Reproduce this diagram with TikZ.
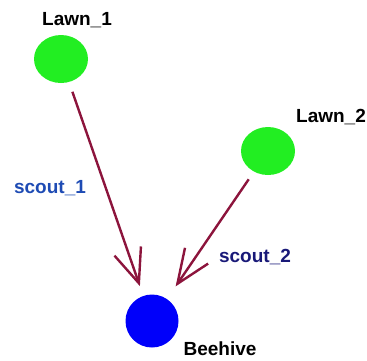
\documentclass[tikz,border=0pt]{standalone}
\usepackage{fontspec}
\setmainfont{Liberation Sans}
\usepackage{xcolor}
\usetikzlibrary{arrows.meta,positioning,shapes.geometric}

\definecolor{lawngreen}{RGB}{34,238,34}
\definecolor{hiveblue}{RGB}{0,0,250}
\definecolor{scoutred}{RGB}{140,20,60}
\definecolor{scoutone}{RGB}{30,75,180}
\definecolor{scouttwo}{RGB}{25,25,120}

\begin{document}
\begin{tikzpicture}[
    x=0.5pt, y=-0.5pt,
    lawn/.style={ellipse, fill=lawngreen, minimum width=27pt, minimum height=24pt, inner sep=0pt},
    hive/.style={circle, fill=hiveblue, minimum size=26.5pt, inner sep=0pt},
    tag/.style={font=\bfseries\fontsize{9.5}{11}\selectfont, inner sep=0pt},
    scout/.style={draw=scoutred, line width=1.2pt, -{Straight Barb[length=17pt,width=14pt,line width=1.2pt]}}
]
    \useasboundingbox (0,0) rectangle (367,360);

    \node[lawn] (lawn1) at (61,59) {};
    \node[lawn] (lawn2) at (268,151) {};
    \node[hive] (hive) at (152,321) {};

    \node[tag] (lawn1lbl) at (77,20) {Lawn\_1};
    \node[tag] (lawn2lbl) at (331,117) {Lawn\_2};
    \node[tag] (hivelbl) at (220,349) {Beehive};

    \node[tag, text=scoutone] (s1) at (50,188) {scout\_1};
    \node[tag, text=scouttwo] (s2) at (255,257) {scout\_2};

    \draw[scout, shorten <=5pt, shorten >=5pt] (lawn1) -- (hive);
    \draw[scout, shorten <=4.5pt, shorten >=7.5pt] (lawn2) -- (hive);
\end{tikzpicture}
\end{document}
